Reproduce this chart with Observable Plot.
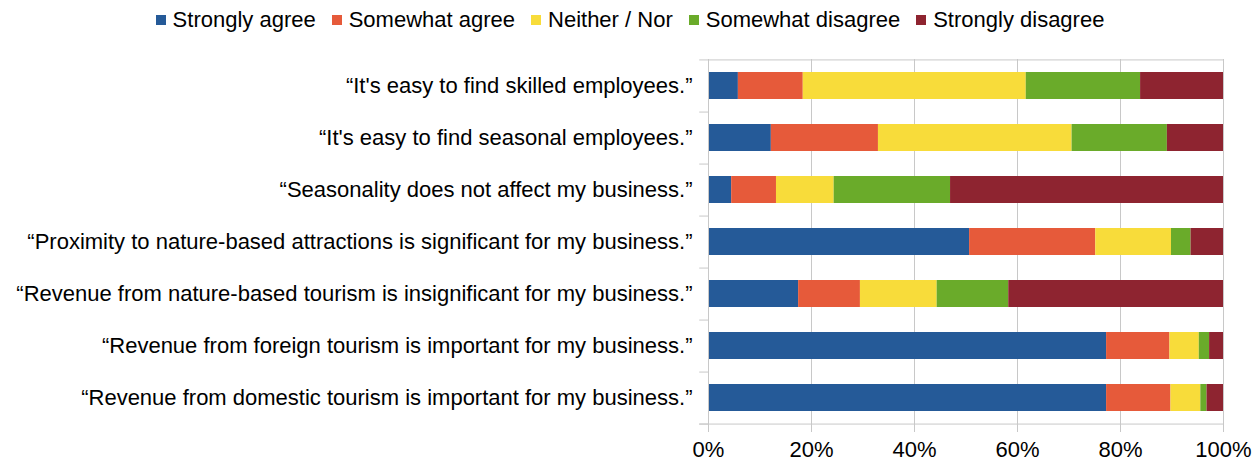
<!DOCTYPE html>
<html><head><meta charset="utf-8">
<script src="https://cdn.jsdelivr.net/npm/d3@7"></script>
<script src="https://cdn.jsdelivr.net/npm/@observablehq/plot@0.6"></script>
<style>
body{margin:0;background:#fff;font-family:"Liberation Sans",Arial,sans-serif;}
#legend{height:40px;display:flex;justify-content:center;align-items:center;font-size:22px;color:#000;}
.item{display:flex;align-items:center;margin:0 8px;}
.sw{width:10px;height:10px;margin-right:7px;}
</style></head><body>
<div id="legend"></div><div id="chart"></div>
<script>
const statements = [
  "“It's easy to find skilled employees.”",
  "“It's easy to find seasonal employees.”",
  "“Seasonality does not affect my business.”",
  "“Proximity to nature-based attractions is significant for my business.”",
  "“Revenue from nature-based tourism is insignificant for my business.”",
  "“Revenue from foreign tourism is important for my business.”",
  "“Revenue from domestic tourism is important for my business.”"
];
const levels = ["Strongly agree", "Somewhat agree", "Neither / Nor", "Somewhat disagree", "Strongly disagree"];
const colors = ["#255a98", "#e65a3a", "#f8dc3a", "#6aab2a", "#8e2430"];
const stronglyAgree    = [5.8, 12.2, 4.5, 50.7, 17.5, 77.3, 77.3];
const somewhatAgree    = [12.6, 20.8, 8.7, 24.5, 12.0, 12.3, 12.5];
const neitherNor       = [43.3, 37.6, 11.2, 14.7, 14.9, 5.7, 5.8];
const somewhatDisagree = [22.2, 18.5, 22.6, 3.8, 13.9, 2.0, 1.2];
const stronglyDisagree = [16.1, 10.9, 53.0, 6.3, 41.7, 2.7, 3.2];
const xTicks = [0, 20, 40, 60, 80, 100];

const series = [stronglyAgree, somewhatAgree, neitherNor, somewhatDisagree, stronglyDisagree];
const data = [];
statements.forEach((s, i) => levels.forEach((l, j) => data.push({statement: s, level: l, value: series[j][i]})));

// legend
const leg = document.getElementById("legend");
levels.forEach((l, j) => {
  const it = document.createElement("div"); it.className = "item";
  const sw = document.createElement("div"); sw.className = "sw"; sw.style.background = colors[j];
  const tx = document.createElement("span"); tx.textContent = l;
  it.appendChild(sw); it.appendChild(tx); leg.appendChild(it);
});

const grid = "#c8c8c8";
const H = 424, mT = 19, mB = 40;
const half = (H - mT - mB) / statements.length / 2;
const first = [statements[0]], last = [statements[statements.length - 1]];
const chart = Plot.plot({
  width: 1260, height: H,
  marginLeft: 708, marginRight: 37, marginTop: mT, marginBottom: mB,
  style: {fontFamily: '"Liberation Sans", Arial, sans-serif', fontSize: "22px", color: "#000", background: "#fff"},
  x: {domain: [0, 100]},
  y: {domain: statements, paddingInner: 0.49, paddingOuter: 0.245},
  color: {domain: levels, range: colors},
  marks: [
    Plot.ruleX(xTicks, {stroke: grid}),
    Plot.barX(data, Plot.stackX({x: "value", y: "statement", fill: "level", order: levels})),
    Plot.ruleY(statements, {y: d => d, x1: -1.7, x2: 0, dy: half, stroke: grid}),
    Plot.ruleY(first, {y: d => d, x1: -1.7, x2: 100, dy: -half, stroke: grid}),
    Plot.ruleY(last, {y: d => d, x1: -1.7, x2: 100, dy: half, stroke: grid}),
    Plot.ruleX([0], {stroke: grid}),
    Plot.axisX({ticks: xTicks, tickFormat: d => d + "%", tickSize: 8, tickPadding: 9, stroke: grid, fill: "#000", label: null}),
    Plot.axisY({tickSize: 0, tickPadding: 16, label: null, fill: "#000"})
  ]
});
document.getElementById("chart").appendChild(chart);
</script>
</body></html>
